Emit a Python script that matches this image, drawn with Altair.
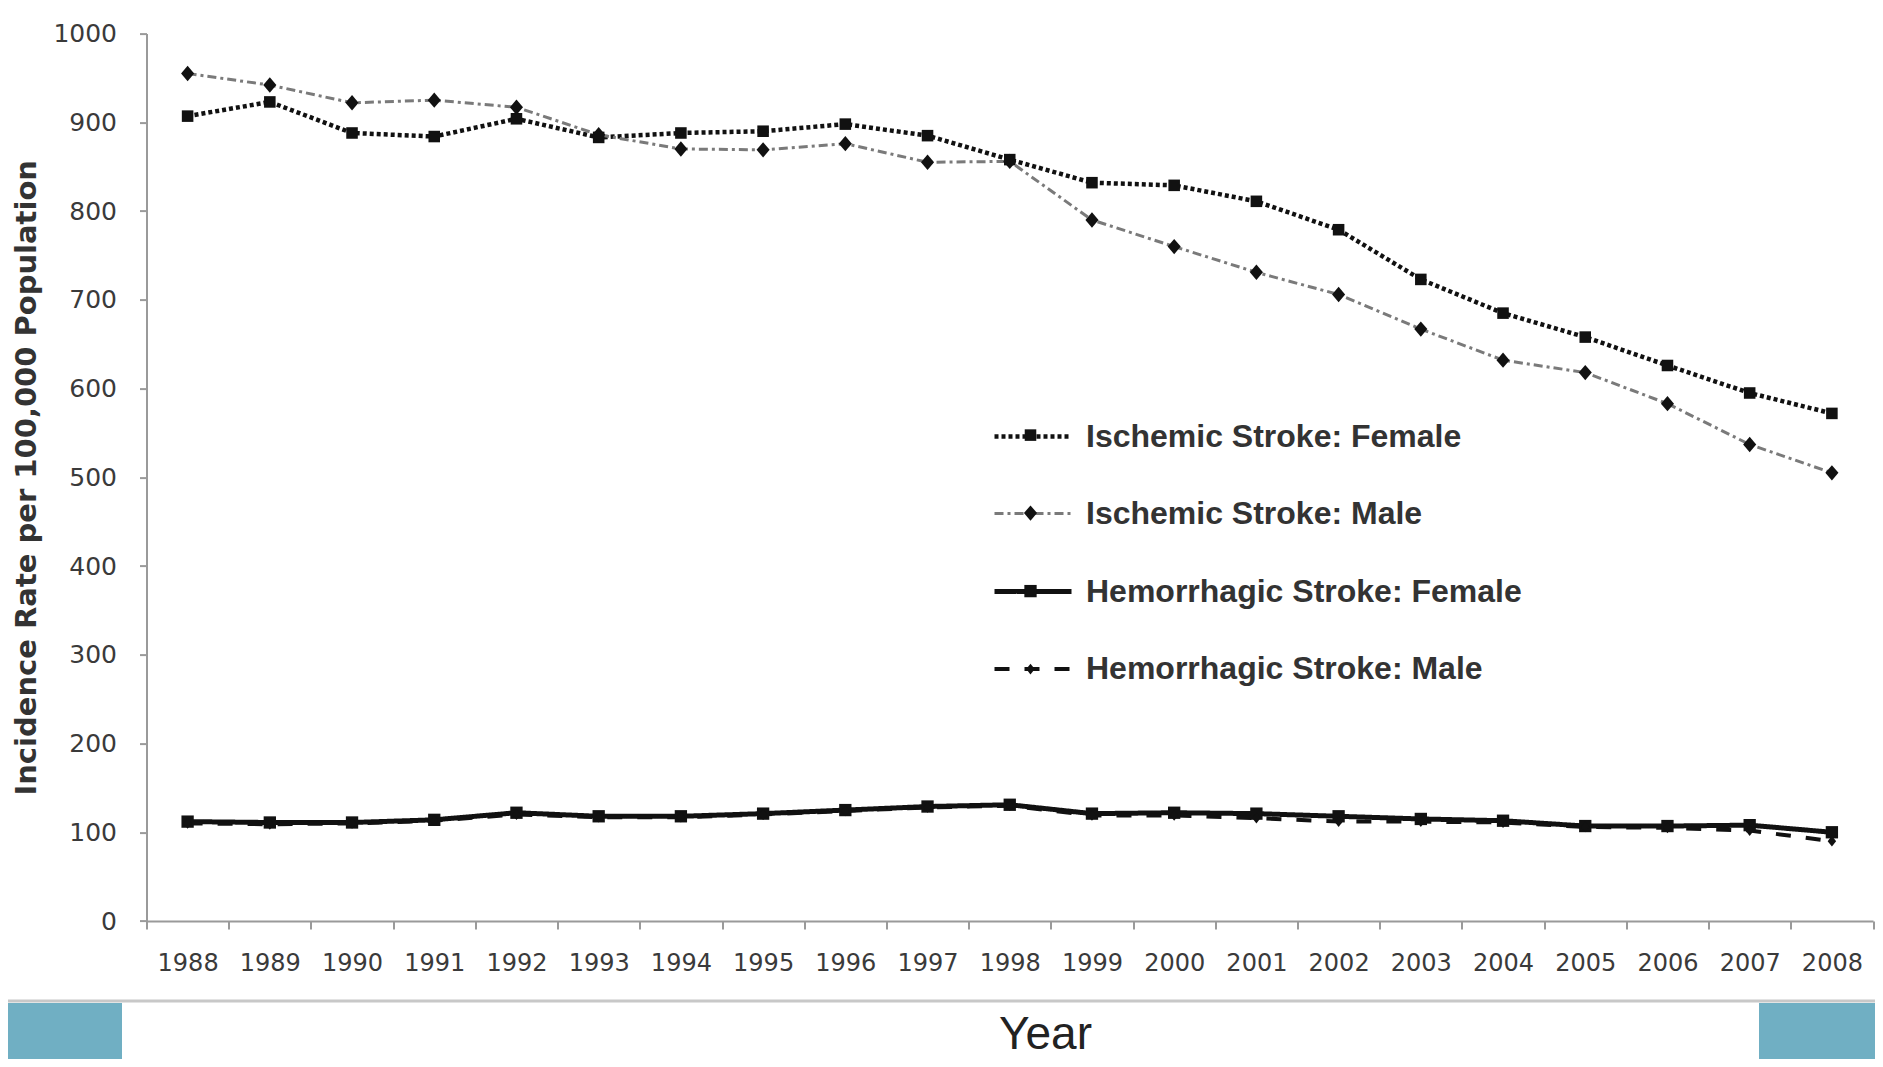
import altair as alt
import pandas as pd

# ---------------- data ----------------
years = ["1988", "1989", "1990", "1991", "1992", "1993", "1994", "1995", "1996", "1997",
         "1998", "1999", "2000", "2001", "2002", "2003", "2004", "2005", "2006", "2007", "2008"]

series_names = ["Ischemic Stroke: Female", "Ischemic Stroke: Male",
                "Hemorrhagic Stroke: Female", "Hemorrhagic Stroke: Male"]

isch_female = [907, 923, 888, 884, 904, 883, 888, 890, 898, 885, 858,
               832, 829, 811, 779, 723, 685, 658, 626, 595, 572]
isch_male = [955, 942, 922, 925, 917, 886, 870, 869, 876, 855, 856,
             790, 760, 731, 706, 667, 632, 618, 583, 537, 505]
hem_female = [112, 111, 111, 114, 122, 118, 118, 121, 125, 129, 131,
              121, 122, 121, 118, 115, 113, 107, 107, 108, 100]
hem_male = [110, 109, 110, 113, 120, 117, 117, 120, 124, 128, 130,
            119, 119, 116, 112, 112, 111, 106, 105, 102, 90]

y_ticks = [0, 100, 200, 300, 400, 500, 600, 700, 800, 900, 1000]

series_values = [isch_female, isch_male, hem_female, hem_male]
rows = []
for name, vals in zip(series_names, series_values):
    for yr, v in zip(years, vals):
        rows.append({"Year": yr, "Rate": v, "Series": name, "SeriesP": name})
df = pd.DataFrame(rows)

# ---------------- styles ----------------
dash_range = [[4, 3], [9, 4, 3, 4], [1, 0], [15, 15]]
color_range = ["#111111", "#7a7a7a", "#111111", "#111111"]
width_range = [4.5, 3, 5, 4]
shape_range = [
    "M-0.15,-0.15L0.15,-0.15L0.15,0.15L-0.15,0.15Z",
    "M0,-0.2L0.17,0L0,0.2L-0.17,0Z",
    "M-0.16,-0.16L0.16,-0.16L0.16,0.16L-0.16,0.16Z",
    "M0,-0.14L0.11,0L0,0.14L-0.11,0Z",
]
SYM = 5929  # 77 px symbol box

LEG_X = 845.5
LEG_Y = 362

line_legend = alt.Legend(
    title=None, orient="none", legendX=LEG_X, legendY=LEG_Y, padding=0,
    symbolType="stroke", symbolSize=SYM, rowPadding=21,
    labelFont="Liberation Sans", labelFontSize=32, labelFontWeight="bold",
    labelColor="#333333", labelOffset=12, labelLimit=1000,
)
point_legend = alt.Legend(
    title=None, orient="none", legendX=LEG_X, legendY=LEG_Y + 1, padding=0,
    symbolSize=SYM, rowPadding=23, symbolFillColor="#111111",
    symbolStrokeColor="#111111", symbolStrokeWidth=0, symbolOpacity=1,
    labelFont="Liberation Sans", labelFontSize=32, labelFontWeight="bold",
    labelExpr="''", labelOffset=12, labelLimit=1000,
)

x_enc = alt.X(
    "Year:O",
    scale=alt.Scale(type="band", domain=years, paddingInner=0, paddingOuter=0),
    axis=alt.Axis(
        title="Year", labelAngle=0, tickBand="extent", tickSize=8, tickWidth=2,
        tickColor="#9a9a9a", domainColor="#9a9a9a", domainWidth=2,
        labelFont="DejaVu Sans", labelFontSize=24, labelColor="#3a3a3a",
        labelPadding=22, labelBaseline="top",
        titleFont="Liberation Sans Narrow, Liberation Sans", titleFontSize=46,
        titleFontWeight="normal", titleColor="#222222",
        titleX=898.5, titleY=127, titleBaseline="alphabetic", titleAlign="center",
    ),
)
y_enc = alt.Y(
    "Rate:Q",
    scale=alt.Scale(domain=[0, 1000], nice=False),
    axis=alt.Axis(
        title="Incidence Rate per 100,000 Population", values=y_ticks, format="d",
        grid=False, tickSize=7, tickWidth=2, tickColor="#9a9a9a",
        domainColor="#9a9a9a", domainWidth=2, labelFont="DejaVu Sans",
        labelFontSize=25, labelColor="#3a3a3a", labelPadding=23,
        titleFont="DejaVu Sans", titleFontSize=29, titleFontWeight="bold",
        titleColor="#333333", titleX=-111, titleY=443.7,
        titleBaseline="alphabetic", titleAlign="center", titleAngle=270,
    ),
)

lines = alt.Chart(df).mark_line().encode(
    x=x_enc,
    y=y_enc,
    strokeDash=alt.StrokeDash("Series:N", scale=alt.Scale(domain=series_names, range=dash_range), legend=line_legend),
    color=alt.Color("Series:N", scale=alt.Scale(domain=series_names, range=color_range), legend=line_legend),
    strokeWidth=alt.StrokeWidth("Series:N", scale=alt.Scale(type="ordinal", domain=series_names, range=width_range), legend=line_legend),
)

points = alt.Chart(df).mark_point(filled=True, size=SYM, color="#111111", opacity=1).encode(
    x=x_enc,
    y=y_enc,
    shape=alt.Shape("SeriesP:N", sort=series_names, scale=alt.Scale(range=shape_range), legend=point_legend),
)

# slide decoration below the chart
deco = pd.DataFrame({"k": [0]})
sep = alt.Chart(deco).mark_rule(color="#c8c8c8", strokeWidth=3).encode(
    x=alt.value(-138.5), x2=alt.value(1728.5), y=alt.value(967.4))
box_l = alt.Chart(deco).mark_rect(color="#70afc3").encode(
    x=alt.value(-138.5), x2=alt.value(-24.5), y=alt.value(969.4), y2=alt.value(1030))
box_r = alt.Chart(deco).mark_rect(color="#70afc3").encode(
    x=alt.value(1612.5), x2=alt.value(1730), y=alt.value(969.4), y2=alt.value(1030))

chart = alt.layer(lines, points, sep, box_l, box_r).properties(
    width=1726.5, height=887.4,
    autosize=alt.AutoSizeParams(type="none"),
    padding={"left": 138.5, "top": 25.6, "right": 2, "bottom": 138},
    background="white",
).configure_view(strokeWidth=0)

chart.save("out.html", embed_options={"renderer": "svg", "actions": False})
